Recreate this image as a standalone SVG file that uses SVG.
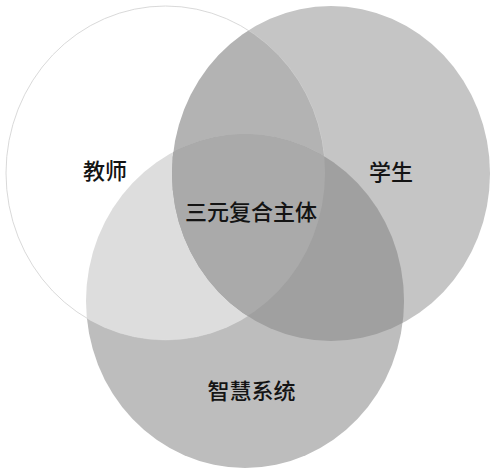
<svg xmlns="http://www.w3.org/2000/svg" width="496" height="474" viewBox="0 0 496 474">
<defs>
<style>
.lbl{font-family:"Noto Sans CJK SC","Noto Sans",sans-serif;font-size:22px;font-weight:500;fill:#141414;text-anchor:middle}
</style>
<clipPath id="cT"><ellipse cx="165.5" cy="173" rx="159.5" ry="167"/></clipPath>
<clipPath id="cS"><ellipse cx="331" cy="173.5" rx="159" ry="167.5"/></clipPath>
</defs>
<rect width="496" height="474" fill="#ffffff"/>
<g id="student"><ellipse cx="331" cy="173.5" rx="159" ry="167.5" fill="#c5c5c5"/></g>
<g id="system"><ellipse cx="245" cy="301" rx="159" ry="167" fill="#bdbdbd"/></g>
<g id="teacher"><ellipse cx="165.5" cy="173" rx="159.5" ry="167" fill="#ffffff" stroke="#cfcfcf" stroke-width="0.8"/></g>
<g id="overlaps">
<ellipse clip-path="url(#cT)" cx="331" cy="173.5" rx="159" ry="167.5" fill="#b3b3b3"/>
<ellipse clip-path="url(#cT)" cx="245" cy="301" rx="159" ry="167" fill="#dddddd"/>
<ellipse clip-path="url(#cS)" cx="245" cy="301" rx="159" ry="167" fill="#a0a0a0"/>
<g clip-path="url(#cT)"><ellipse clip-path="url(#cS)" cx="245" cy="301" rx="159" ry="167" fill="#aaaaaa"/></g>
</g>
<g id="labels">
<text class="lbl" x="105" y="179">教师</text>
<text class="lbl" x="391" y="180">学生</text>
<text class="lbl" x="251" y="220">三元复合主体</text>
<text class="lbl" x="251.5" y="399">智慧系统</text>
</g>
</svg>
